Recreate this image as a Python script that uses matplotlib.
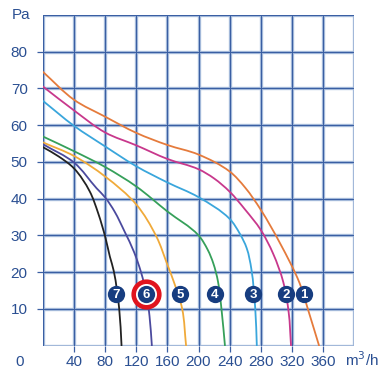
import matplotlib
matplotlib.use("Agg")
import matplotlib.pyplot as plt
from matplotlib.path import Path
from matplotlib.patches import PathPatch
import numpy as np

plt.rcParams['font.family'] = ['Liberation Sans', 'DejaVu Sans']

# curve data: flow (m3/h) vs pressure (Pa)
c1_x = [0, 40, 80, 120, 160, 200, 240, 260, 280, 305, 330, 342, 355]
c1_y = [74.5, 66.9, 62.3, 57.9, 54.6, 52.0, 47.4, 43.0, 37.0, 27.8, 17.0, 9.0, 0]
c2_x = [0, 40, 80, 120, 160, 200, 220, 240, 260, 280, 296, 309, 316, 319]
c2_y = [70.5, 64.0, 58.0, 54.5, 50.8, 48.0, 45.5, 41.9, 37.0, 31.5, 25.0, 17.3, 9.0, 0]
c3_x = [0, 40, 80, 120, 160, 200, 240, 253, 262, 268, 273, 275]
c3_y = [66.6, 59.8, 54.2, 48.8, 44.4, 40.4, 34.5, 30.5, 26.5, 20.8, 10, 0]
c4_x = [0, 40, 80, 120, 160, 200, 212, 219, 225, 230, 234]
c4_y = [56.9, 52.9, 48.6, 43.3, 36.5, 30.0, 26.0, 22.4, 17.5, 9.0, 0]
c5_x = [0, 40, 80, 120, 146, 160, 168, 179, 184]
c5_y = [55.3, 51.6, 46.0, 38.4, 29.6, 22.0, 17.5, 10, 0]
c6_x = [0, 40, 69, 80, 92, 105, 117, 126, 133, 137, 140]
c6_y = [54.8, 49.8, 42.8, 40.3, 36.5, 31.0, 25.5, 20.0, 14.0, 8.0, 0]
c7_x = [0, 20, 40, 60, 71, 80, 86, 91, 98, 101]
c7_y = [54.0, 51.5, 48.2, 42.0, 36.0, 29.6, 24.2, 20.3, 10, 0]

curve_x = [c1_x, c2_x, c3_x, c4_x, c5_x, c6_x, c7_x]
curve_y = [c1_y, c2_y, c3_y, c4_y, c5_y, c6_y, c7_y]
curve_colors = ['#e57b3c', '#c8388c', '#3aa6dc', '#36a05a', '#f0aa3a', '#4b4a9e', '#222222']

labels = ['1', '2', '3', '4', '5', '6', '7']
label_x = [336, 313, 270, 221, 176, 133, 94]
label_y = [14, 14, 14, 14, 14, 14, 14]
highlight = '6'

x_ticks = [40, 80, 120, 160, 200, 240, 280, 320, 360]
y_ticks = [10, 20, 30, 40, 50, 60, 70, 80]

text_color = '#2a4f92'
grid_dark = '#3a5fa3'
grid_light = '#a9bedd'
navy = '#173d80'

XMAX, YMAX = 400, 90
fig = plt.figure(figsize=(3.82, 3.72), dpi=100)
ax = fig.add_axes([43/382, 1-345.5/372, (354-43)/382, (345.5-15)/372])
ax.set_xlim(0, XMAX)
ax.set_ylim(0, YMAX)
sx, sy = 311.0 / XMAX, 330.5 / YMAX  # scale to roughly square units


def smooth_path(xs, ys):
    """Bezier path through the read points (rendering only)."""
    p = np.column_stack([np.asarray(xs, float) * sx, np.asarray(ys, float) * sy])
    n = len(p)
    tang = np.zeros_like(p)
    for i in range(n):
        if i == 0:
            d = p[1] - p[0]
        elif i == n - 1:
            d = p[-1] - p[-2]
        else:
            d = (p[i + 1] - p[i]) / np.linalg.norm(p[i + 1] - p[i]) + \
                (p[i] - p[i - 1]) / np.linalg.norm(p[i] - p[i - 1])
        tang[i] = d / np.linalg.norm(d)
    verts = [p[0]]
    codes = [Path.MOVETO]
    for i in range(n - 1):
        L = np.linalg.norm(p[i + 1] - p[i])
        verts += [p[i] + tang[i] * L / 3, p[i + 1] - tang[i + 1] * L / 3, p[i + 1]]
        codes += [Path.CURVE4] * 3
    verts = np.array(verts)
    verts[:, 0] /= sx
    verts[:, 1] /= sy
    return Path(verts, codes)


# grid with light halo
for gx in range(0, XMAX + 1, 40):
    ax.axvline(gx, color=grid_light, lw=2.4, zorder=1)
    ax.axvline(gx, color=grid_dark, lw=0.8, zorder=1.1)
for gy in range(0, YMAX + 1, 10):
    ax.axhline(gy, color=grid_light, lw=2.4, zorder=1)
    ax.axhline(gy, color=grid_dark, lw=0.8, zorder=1.1)

for s in ax.spines.values():
    s.set_visible(False)

ax.set_xticks(x_ticks)
ax.set_yticks(y_ticks)
ax.set_xticklabels([str(v) for v in x_ticks])
ax.set_yticklabels([str(v) for v in y_ticks])
ax.tick_params(axis='both', colors=grid_dark, labelcolor=text_color, labelsize=11,
               length=4, width=0.9)
ax.tick_params(axis='y', pad=7)
ax.tick_params(axis='x', pad=3)

# corner labels
ax.text(-28, 90, 'Pa', color=text_color, fontsize=11, ha='center', va='center', clip_on=False)
ax.text(-30, -4.6, '0', color=text_color, fontsize=11, ha='center', va='center', clip_on=False)
ax.text(410, -3.8, 'm$^3$/h', color=text_color, fontsize=11, ha='center', va='center', clip_on=False)

for xs, ys, c in zip(curve_x, curve_y, curve_colors):
    ax.add_patch(PathPatch(smooth_path(xs, ys), facecolor='none', edgecolor=c, lw=1.3,
                           zorder=3, capstyle='round', joinstyle='round'))

for lab, lx, ly in zip(labels, label_x, label_y):
    if lab == highlight:
        ax.scatter([lx], [ly], s=340, facecolor='white', edgecolor='#e0141e', linewidths=3.3, zorder=4)
    ax.scatter([lx], [ly], s=155, color=navy, zorder=5, linewidths=0)
    ax.text(lx, ly - 0.3, lab, color='white', fontsize=9.5, fontweight='bold', ha='center', va='center', zorder=6)

fig.savefig('out.png', dpi=100)
